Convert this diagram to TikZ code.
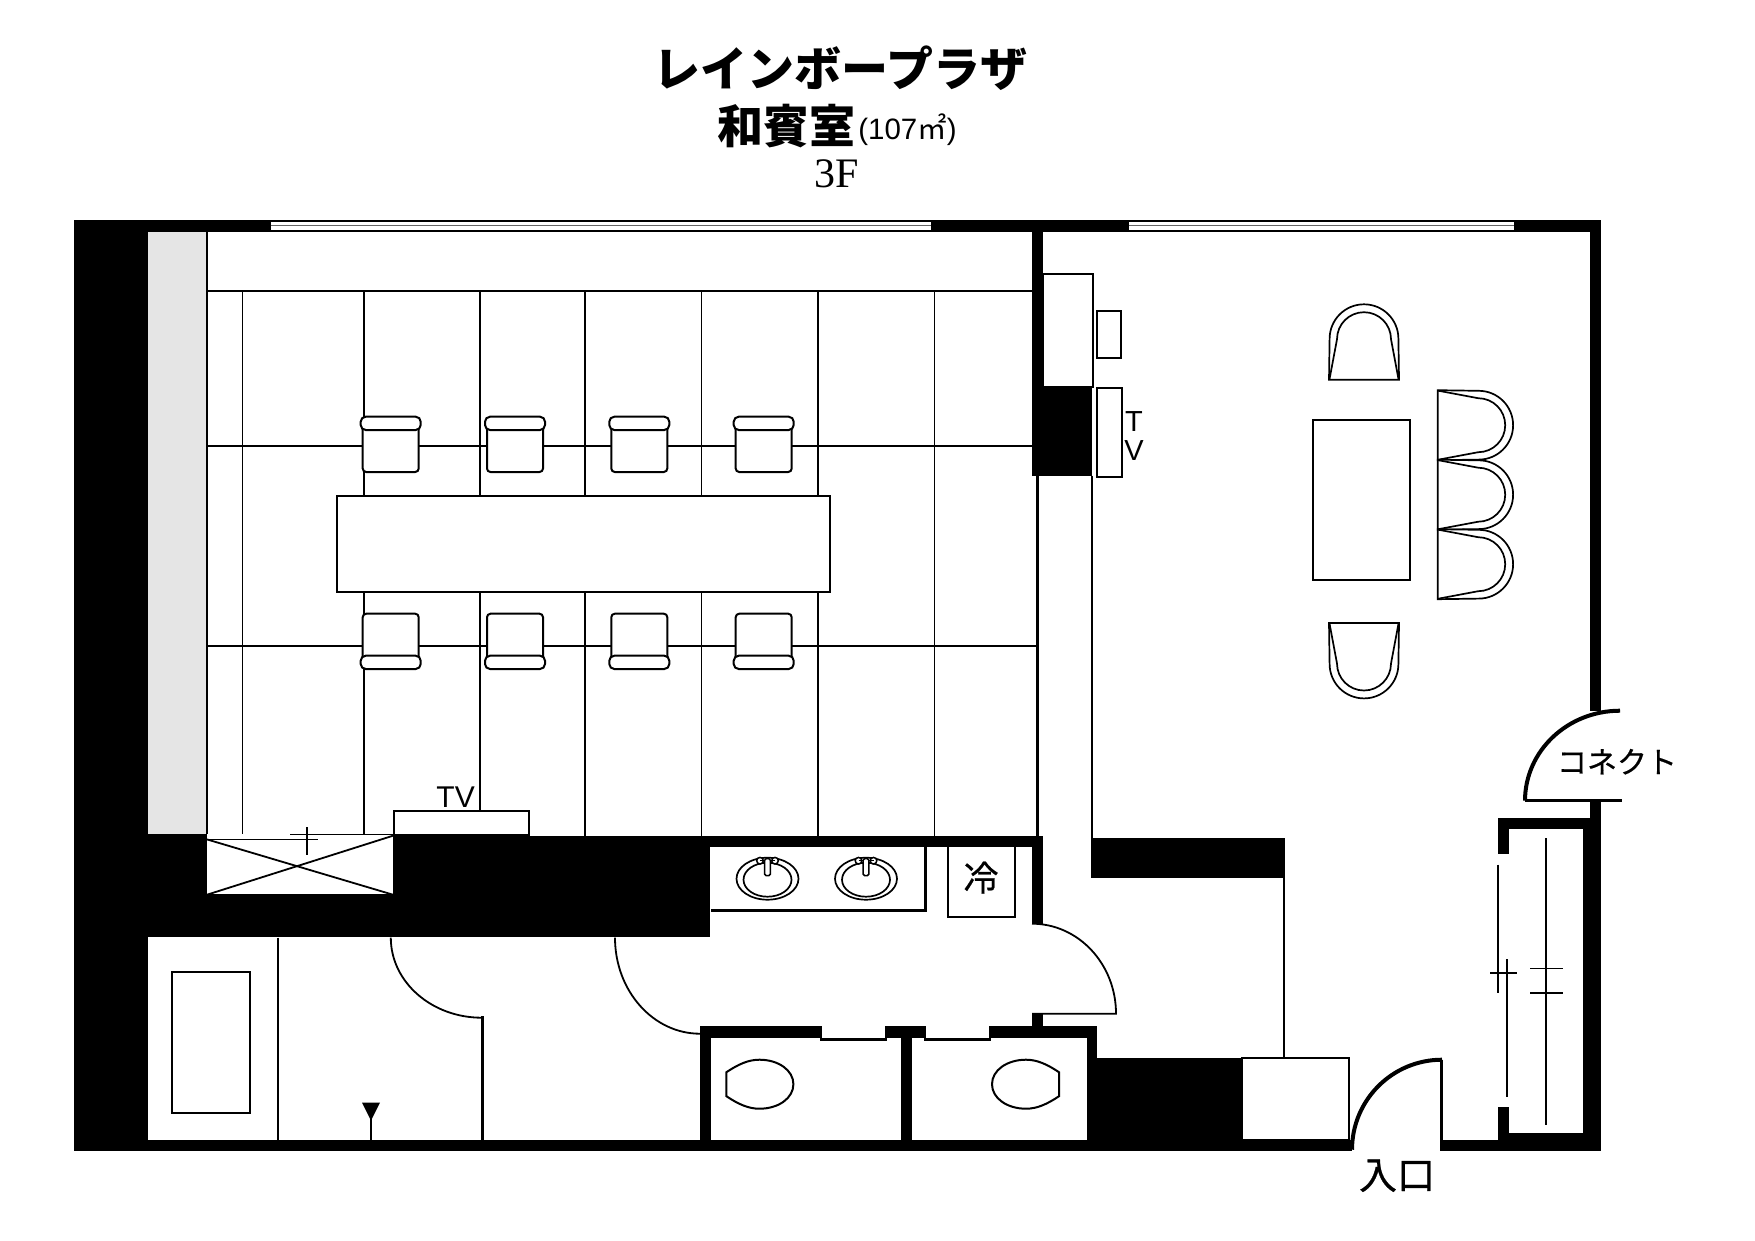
\documentclass[tikz,border=0pt]{standalone}
\usepackage{fontspec}
\setmainfont{Liberation Sans}
\newfontfamily\cjk{Noto Sans CJK JP}
\newfontfamily\cjkm[FakeBold=0.6]{Noto Sans CJK JP}
\newfontfamily\serifn{Liberation Serif}
\tikzset{
  x=1pt,y=-1pt,
  thin line/.style={line width=1.8pt,draw=black},
  mid line/.style={line width=2.6pt,draw=black},
  thick line/.style={line width=4pt,draw=black},
  wall/.style={fill=black,draw=none},
  furn/.style={line width=2pt,draw=black,fill=white},
  lbl/.style={inner sep=0pt,outer sep=0pt,text=black},
  armchair/.pic={
    \draw[line width=1.7pt,fill=white] (-35,0) -- (-34.4,-41) arc[start angle=180,end angle=0,radius=34.4pt] -- (35,0) -- cycle;
    \draw[line width=1.7pt] (-34.6,0) -- (-27,-40.5) arc[start angle=180,end angle=0,radius=27pt] -- (34.6,0);
  },
  deskchair/.pic={
    \draw[furn,rounded corners=3.5pt] (-28,-6) rectangle (28,42);
    \draw[furn,rounded corners=5pt] (-30,-13.3) rectangle (30,0);
  },
  basin/.pic={
    \draw[line width=1.7pt,fill=white] (0,0) ellipse[x radius=31pt,y radius=21pt];
    \draw[line width=1.7pt] (0,1) ellipse[x radius=24pt,y radius=17pt];
    \draw[line width=1.5pt,fill=white] (-7.5,-18) circle[radius=3.3pt];
    \draw[line width=1.5pt,fill=white] (7.5,-18) circle[radius=3.3pt];
    \draw[line width=1.5pt,fill=white] (-7.5,-18) -- (7.5,-18);
    \draw[line width=1.5pt,fill=white,rounded corners=1.5pt] (-2.8,-20) rectangle (2.8,-3);
  },
  seat/.pic={
    \draw[line width=2pt] (0,-12) .. controls (12,-20) and (22,-24.5) .. (33,-24.5)
      .. controls (52,-24.5) and (67,-14) .. (67,0)
      .. controls (67,14) and (52,24.5) .. (33,24.5)
      .. controls (22,24.5) and (12,20) .. (0,12) -- cycle;
  }
}
\begin{document}
\begin{tikzpicture}
\useasboundingbox (0,-0.7) rectangle (1755,1239.3);
\fill[white] (0,-0.7) rectangle (1755,1239.3);
% shell
\fill[wall] (74,219) rectangle (1601,1150);
\fill[white] (148,231) rectangle (1590,1139);
\fill[white] (1352,1139) rectangle (1440,1151);
\fill[white] (1589,710) rectangle (1602,800);
% windows
\fill[white] (270.5,221) rectangle (931,229);
\draw[line width=1pt,draw=black!60] (270.5,224.8) -- (931,224.8);
\fill[white] (1128.5,221) rectangle (1514,229);
\draw[line width=1pt,draw=black!60] (1128.5,224.8) -- (1514,224.8);
% tatami area
\fill[black!10] (148,231) rectangle (206,833);
\draw[thin line] (207,231) -- (207,835);
\draw[thin line] (207,290) -- (1032,290);
\draw[thin line] (207,445) -- (1032,445);
\draw[thin line] (207,645) -- (1036,645);
\foreach \gx in {242.4,363.6,584.7,701.4,817.6,934.4} \draw[thin line] (\gx,290) -- (\gx,835);
\draw[thin line] (480,290) -- (480,811);
% dark masses
\fill[wall] (148,835) rectangle (710.4,936.7);
\fill[wall] (148,833) rectangle (206,836);
\fill[wall] (394,835) rectangle (1042.5,846);
\fill[wall] (1032,231) rectangle (1042.7,386);
\fill[wall] (1032,386) rectangle (1092,475.6);
\fill[wall] (1035.5,475) rectangle (1039,836);
\fill[wall] (1032,835) rectangle (1042.5,923);
\fill[wall] (1032,1013) rectangle (1042.5,1026);
\fill[wall] (1091.4,837.7) rectangle (1285,877);
\draw[thin line] (1092,475) -- (1092,838);
\draw[thin line] (1284,877) -- (1284,1057);
% toilets
\fill[wall] (700,1025) rectangle (822,1037);
\fill[wall] (884.6,1025) rectangle (926,1037);
\fill[wall] (989,1025) rectangle (1097,1037);
\fill[wall] (700,1025) rectangle (711,1140);
\fill[wall] (901,1036) rectangle (912,1140);
\fill[wall] (1087,1025) rectangle (1097,1058);
\fill[wall] (1087,1057) rectangle (1241.7,1140);
\fill[wall] (820,1037.7) rectangle (887,1040.7);
\fill[wall] (924,1037.7) rectangle (991,1040.7);
\pic at (726.4,1083.5) {seat};
\pic[xscale=-1] at (1059,1083.5) {seat};
% washroom counter
\fill[wall] (711,908.7) rectangle (927,911.7);
\fill[wall] (924,846) rectangle (927,911.7);
\fill[white] (711,846) rectangle (924,908.7);
\pic at (767.5,878) {basin};
\pic at (866,878) {basin};
\draw[furn] (948,845) rectangle (1015,916);
\node[lbl] (fridge) at (981,877) {\fontsize{35}{35}\selectfont\cjkm 冷};
% shaft
\fill[white] (207,833.5) rectangle (393,894);
\draw[thin line] (207,894) -- (393,894);
\draw[thin line] (207,838.7) -- (393,894);
\draw[thin line] (207,894) -- (393,835);
\draw[thin line] (207,838.7) -- (318,838.7);
\draw[thin line] (290,833.7) -- (393,833.7);
\draw[thin line] (307,826.7) -- (307,854);
% TV stand
\draw[furn] (394,810.7) rectangle (529,834);
\node[lbl] (tvsouth) at (455.6,796) {\fontsize{30}{30}\selectfont TV};
% table and chairs
\draw[furn] (337,495.3) rectangle (830,591);
\foreach \cx in {390.7,515,639.3,763.7} {
  \pic at (\cx,429.3) {deskchair};
  \pic[yscale=-1] at (\cx,655) {deskchair};
}
% bath lower-left
\draw[thin line] (171.6,971) rectangle (249.7,1112);
\draw[thin line] (278,937) -- (278,1139);
\fill[black] (362,1102) -- (380,1102) -- (371,1120) -- cycle;
\draw[mid line] (371,1115) -- (371,1139);
\draw[thin line] (390.8,937) arc[start angle=180,end angle=270,x radius=91pt,y radius=80pt];
\fill[wall] (480.5,1015.5) rectangle (483.5,1139);
\draw[thin line] (615,937) arc[start angle=180,end angle=270,x radius=85pt,y radius=96pt];
\draw[thin line] (1032,923) arc[start angle=90,end angle=0,x radius=84pt,y radius=90pt] -- (1032,1013);
% lobby furniture
\draw[furn] (1042.7,273.5) rectangle (1093.3,386);
\draw[furn] (1097,310.7) rectangle (1121,357);
\draw[furn] (1097,387.4) rectangle (1121.5,476);
\node[lbl] (tvt) at (1134,421) {\fontsize{29}{29}\selectfont T};
\node[lbl] (tvv) at (1134,450) {\fontsize{29}{29}\selectfont V};
\draw[furn] (1312.8,419.5) rectangle (1410,579.6);
\pic at (1364,379) {armchair};
\pic[rotate=180] at (1364,622.3) {armchair};
\pic[rotate=-90] at (1437.7,424.5) {armchair};
\pic[rotate=-90] at (1437.7,494) {armchair};
\pic[rotate=-90] at (1437.7,563.5) {armchair};
% closet
\fill[wall] (1497.7,817.3) rectangle (1601,828.3);
\fill[wall] (1497.7,817.3) rectangle (1508.7,853.7);
\fill[wall] (1497.7,1106.7) rectangle (1508.7,1140);
\fill[wall] (1583,828) rectangle (1591,1140);
\fill[wall] (1508.7,1132.7) rectangle (1584,1140);
\draw[thin line] (1497.7,864) -- (1497.7,992.7);
\draw[thin line] (1506.7,958.7) -- (1506.7,1096.7);
\draw[thin line] (1490,972) -- (1517,972);
\draw[thin line] (1546,837.7) -- (1546,1124);
\draw[thin line] (1530,967.7) -- (1562.7,967.7);
\draw[thin line] (1530,992) -- (1562.7,992);
% right-hand door and entrance
\draw[thick line] (1525,800) arc[start angle=180,end angle=90,x radius=95pt,y radius=90pt];
\draw[mid line] (1525,800) -- (1622,800);
\node[lbl] (connect) at (1617,761) {\fontsize{30}{30}\selectfont\cjkm コネクト};
\draw[thick line] (1352,1149) arc[start angle=180,end angle=90,x radius=90pt,y radius=90pt];
\fill[wall] (1440,1059) rectangle (1442.7,1150);
\draw[furn] (1241.7,1057) rectangle (1348.7,1139.5);
\node[lbl] (entry) at (1397,1175) {\fontsize{38}{38}\selectfont\cjkm 入口};
% titles
\node[lbl] (title) at (840.5,67) {\fontsize{47}{47}\selectfont\cjk\bfseries レインボープラザ};
\node[lbl] (room) at (786,125) {\fontsize{46}{46}\selectfont\cjk\bfseries 和賓室};
\node[lbl] (area) at (907.5,129) {\fontsize{29.5}{29.5}\selectfont (107{\cjk ㎡})};
\node[lbl] (floor) at (837,173) {\fontsize{42}{42}\selectfont\serifn 3F};
\end{tikzpicture}
\end{document}
